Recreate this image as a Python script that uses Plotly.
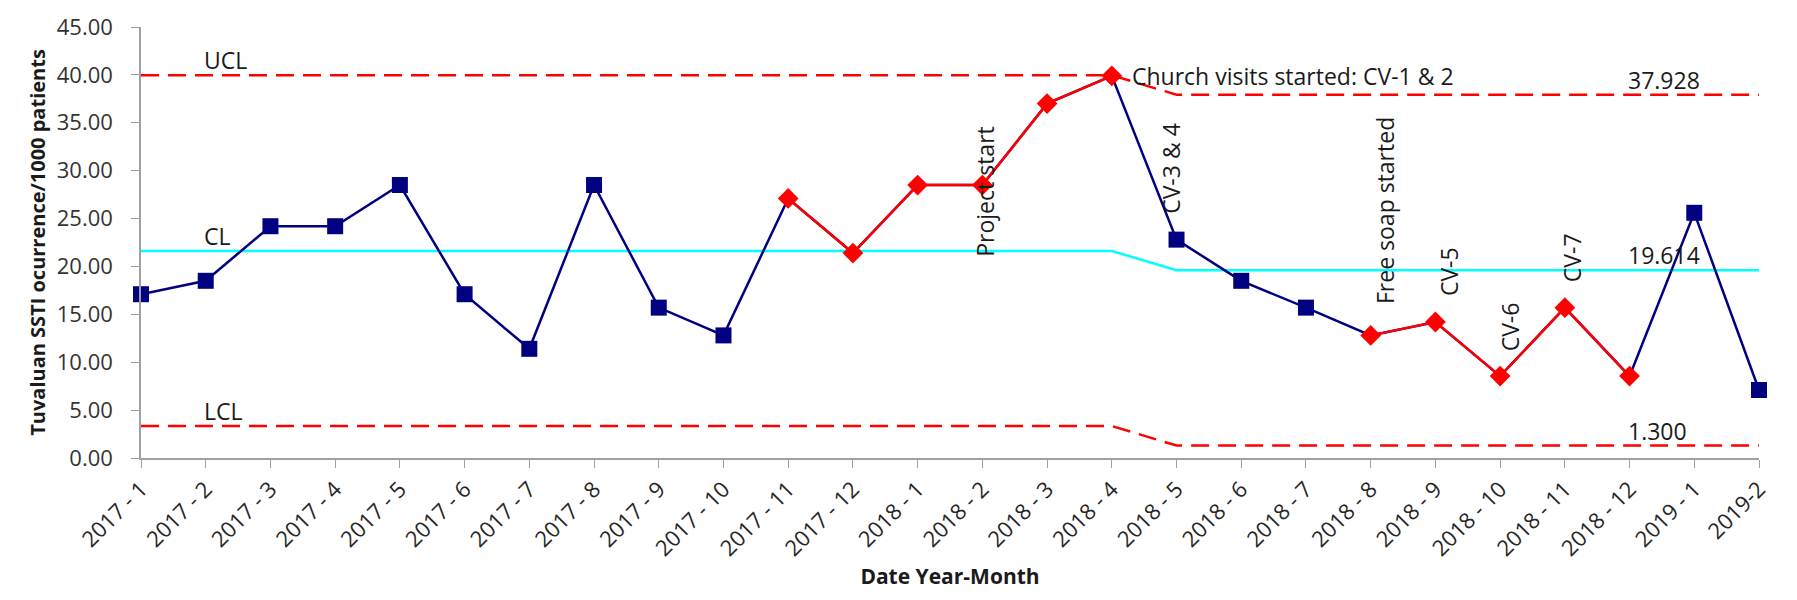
import plotly.graph_objects as go

categories = ["2017 - 1", "2017 - 2", "2017 - 3", "2017 - 4", "2017 - 5", "2017 - 6",
              "2017 - 7", "2017 - 8", "2017 - 9", "2017 - 10", "2017 - 11", "2017 - 12",
              "2018 - 1", "2018 - 2", "2018 - 3", "2018 - 4", "2018 - 5", "2018 - 6",
              "2018 - 7", "2018 - 8", "2018 - 9", "2018 - 10", "2018 - 11", "2018 - 12",
              "2019 - 1", "2019-2"]
rate = [17.1, 18.5, 24.2, 24.2, 28.5, 17.1, 11.4, 28.5, 15.7, 12.8, 27.1, 21.4,
        28.5, 28.5, 37.0, 39.9, 22.8, 18.5, 15.7, 12.8, 14.2, 8.55, 15.7, 8.55,
        25.6, 7.1]
flagged = [0, 0, 0, 0, 0, 0, 0, 0, 0, 0, 1, 1, 1, 1, 1, 1, 0, 0, 0, 1, 1, 1, 1, 1, 0, 0]
ucl = [39.96] * 16 + [37.928] * 10
cl = [21.62] * 16 + [19.614] * 10
lcl = [3.34] * 16 + [1.300] * 10

events = ["Project start", "CV-3 & 4", "Free soap started", "CV-5", "CV-6", "CV-7"]
event_cats = ["2018 - 2", "2018 - 5", "2018 - 8", "2018 - 9", "2018 - 10", "2018 - 11"]
event_base = [21.1, 25.6, 16.2, 17.0, 11.2, 18.5]
event_shift = [3, -5, 15, 13, 10, 7]

NAVY = "#000080"
RED = "#FF0000"
CYAN = "#00FFFF"
FONT = "Open Sans"

fig = go.Figure()

fig.add_trace(go.Scatter(x=categories, y=ucl, mode="lines",
                         line=dict(color=RED, width=2.5, dash="18px,9px"), cliponaxis=False))
fig.add_trace(go.Scatter(x=categories, y=lcl, mode="lines",
                         line=dict(color=RED, width=2.5, dash="18px,9px"), cliponaxis=False))
fig.add_trace(go.Scatter(x=categories, y=cl, mode="lines",
                         line=dict(color=CYAN, width=2.5), cliponaxis=False))

# main line (navy)
fig.add_trace(go.Scatter(x=categories, y=rate, mode="lines",
                         line=dict(color=NAVY, width=2.5), cliponaxis=False))
# red segments between consecutive flagged points
red_y = [v if f else None for v, f in zip(rate, flagged)]
fig.add_trace(go.Scatter(x=categories, y=red_y, mode="lines", connectgaps=False,
                         line=dict(color=RED, width=2.5), cliponaxis=False))
# markers
sq_x = [c for c, f in zip(categories, flagged) if not f]
sq_y = [v for v, f in zip(rate, flagged) if not f]
dm_x = [c for c, f in zip(categories, flagged) if f]
dm_y = [v for v, f in zip(rate, flagged) if f]
fig.add_trace(go.Scatter(x=sq_x, y=sq_y, mode="markers",
                         marker=dict(symbol="square", size=16, color=NAVY), cliponaxis=False))
fig.add_trace(go.Scatter(x=dm_x, y=dm_y, mode="markers",
                         marker=dict(symbol="diamond", size=16, color=RED), cliponaxis=False))

ann = []
txtfont = dict(family=FONT, size=23, color="#1a1a1a")
for lbl, val in [("UCL", ucl[0]), ("CL", cl[0]), ("LCL", lcl[0])]:
    ann.append(dict(x=categories[1], y=val, text=lbl, showarrow=False,
                    xanchor="left", yanchor="bottom", xshift=-4, yshift=-3, font=txtfont))
for val in [ucl[-1], cl[-1], lcl[-1]]:
    ann.append(dict(x=categories[23], y=val, text=f"{val:.3f}", showarrow=False,
                    xanchor="left", yanchor="bottom", xshift=-4, yshift=-3, font=txtfont))
ann.append(dict(x=categories[15], y=rate[15], text="Church visits started: CV-1 & 2",
                showarrow=False, xanchor="left", yanchor="middle", xshift=18, yshift=0,
                font=txtfont))
for t, c, b, s in zip(events, event_cats, event_base, event_shift):
    ann.append(dict(x=c, y=b, text=t, showarrow=False, textangle=-90,
                    xanchor="center", yanchor="bottom", xshift=s, yshift=-3, font=txtfont))

fig.update_layout(
    width=1797, height=600,
    margin=dict(l=133, r=46, t=19, b=150),
    paper_bgcolor="white", plot_bgcolor="white",
    showlegend=False,
    annotations=ann,
    font=dict(family=FONT, color="#262626"),
)
fig.update_xaxes(type="category", categoryorder="array", categoryarray=categories,
                 range=[0, len(categories) - 1], tickangle=-45, automargin=False,
                 showline=True, linecolor="#a0a0a0", linewidth=1.5,
                 ticks="outside", ticklen=8, tickcolor="#a0a0a0", showgrid=False,
                 tickfont=dict(family=FONT, size=22, color="#262626"),
                 title=dict(text="<b>Date Year-Month</b>", standoff=8,
                            font=dict(family=FONT, size=21, color="#1a1a1a")))
fig.update_yaxes(range=[0, 45], dtick=5, tickformat=".2f", ticklabelstandoff=14,
                 automargin=False,
                 showline=True, linecolor="#a0a0a0", linewidth=1.5,
                 ticks="outside", ticklen=8, tickcolor="#a0a0a0", showgrid=False,
                 zeroline=False,
                 tickfont=dict(family=FONT, size=22, color="#333333"),
                 title=dict(text="<b>Tuvaluan SSTI ocurrence/1000 patients</b>", standoff=6,
                            font=dict(family=FONT, size=20, color="#1a1a1a")))

fig.write_html("out.html")
